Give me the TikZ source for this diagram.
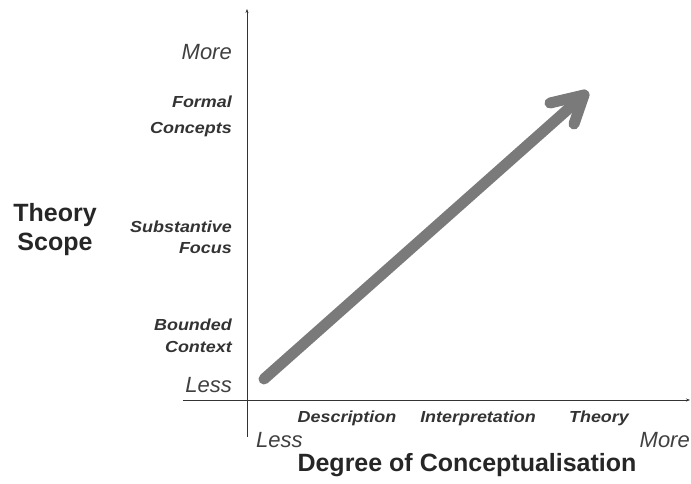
\documentclass[tikz,border=0pt]{standalone}
\usepackage{fontspec}
\usepackage{graphicx}
\setmainfont{Liberation Sans}
\usetikzlibrary{arrows.meta}
\newcommand{\widetxt}[1]{\scalebox{1.12}[1]{#1}}
\begin{document}
\begin{tikzpicture}[x=1pt,y=-1pt,
  axis/.style={draw=black!80, line width=1pt},
  tick/.style={font=\fontsize{16}{16}\selectfont\bfseries\itshape, text=black!80, inner sep=0pt},
  endlbl/.style={font=\fontsize{22}{22}\selectfont\itshape, text=black!75, inner sep=0pt},
  title/.style={font=\fontsize{25}{29}\selectfont\bfseries, text=black!85, inner sep=0pt, align=center},
  bigarrow/.style={draw=black!52, line width=11pt, line cap=round, line join=round}]
\useasboundingbox (0,0) rectangle (691,483);
% axes
\coordinate (yb) at (247,437);
\coordinate (yt) at (247,9);
\coordinate (xl) at (183,400);
\coordinate (xr) at (690,400);
\draw[axis, -{Stealth[length=4pt,width=3pt]}] (yb) -- (yt);
\draw[axis, -{Stealth[length=4pt,width=3pt]}] (xl) -- (xr);
% y labels
\node[endlbl, anchor=east] (ymore) at (232,52) {More};
\node[tick, anchor=east] (f1) at (232,102) {\widetxt{Formal}};
\node[tick, anchor=east] (f2) at (232,130) {\widetxt{Concepts}};
\node[tick, anchor=east] (s1) at (232,227) {\widetxt{Substantive}};
\node[tick, anchor=east] (s2) at (232,248) {\widetxt{Focus}};
\node[tick, anchor=east] (b1) at (232,325) {\widetxt{Bounded}};
\node[tick, anchor=east] (b2) at (232,347) {\widetxt{Context}};
\node[endlbl, anchor=east] (yless) at (232,385) {Less};
\node[title] (ts) at (55,230) {Theory\\Scope};
% x labels
\node[tick] (d) at (347,418) {\widetxt{Description}};
\node[tick] (i) at (478,418) {\widetxt{Interpretation}};
\node[tick] (t) at (599,418) {\widetxt{Theory}};
\node[endlbl, anchor=west] (xless) at (256,440) {Less};
\node[endlbl, anchor=east] (xmore) at (690,440) {More};
\node[title] (dc) at (467,465) {Degree of Conceptualisation};
% big arrow
\coordinate (a0) at (264,379);
\coordinate (a1) at (584,95);
\coordinate (al) at (550,103);
\coordinate (ar) at (574,124);
\draw[bigarrow] (a0) -- (a1);
\draw[bigarrow] (al) -- (a1) -- (ar);
\end{tikzpicture}
\end{document}
